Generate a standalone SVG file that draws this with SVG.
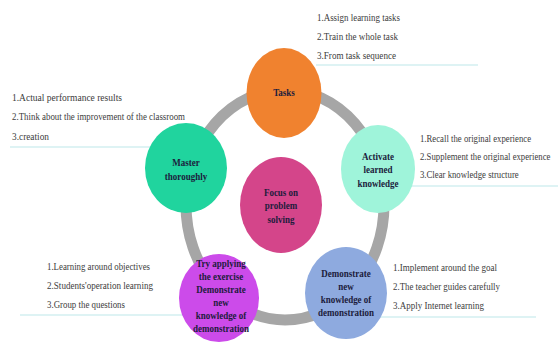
<svg xmlns="http://www.w3.org/2000/svg" width="558" height="342" viewBox="0 0 558 342">
  <style>
    .ring { fill: none; stroke: #a6a6a6; stroke-width: 11; }
    .rule { stroke: #d3eff0; stroke-width: 1.6; }
    .item { font-family: "Liberation Serif", "Times New Roman", serif; font-size: 10px; fill: #3c3c3c; }
    .lbl { font-family: "Liberation Serif", "Times New Roman", serif; font-size: 10px; font-weight: bold; fill: #1c1c3c; text-anchor: middle; }
  </style>

  <rect width="558" height="342" fill="#ffffff"/>

  <!-- side lists with their underlines -->
  <g id="list-tasks">
    <line class="rule" x1="316" y1="65" x2="478" y2="65"/>
    <text class="item" x="317" y="21" textLength="83" lengthAdjust="spacingAndGlyphs">1.Assign learning tasks</text>
    <text class="item" x="317" y="40" textLength="81" lengthAdjust="spacingAndGlyphs">2.Train the whole task</text>
    <text class="item" x="317" y="59" textLength="79" lengthAdjust="spacingAndGlyphs">3.From task sequence</text>
  </g>
  <g id="list-master">
    <line class="rule" x1="10" y1="147" x2="160" y2="147"/>
    <text class="item" x="12" y="101" textLength="110" lengthAdjust="spacingAndGlyphs">1.Actual performance results</text>
    <text class="item" x="12" y="120" textLength="173" lengthAdjust="spacingAndGlyphs">2.Think about the improvement of the classroom</text>
    <text class="item" x="12" y="140" textLength="37" lengthAdjust="spacingAndGlyphs">3.creation</text>
  </g>
  <g id="list-activate">
    <line class="rule" x1="410" y1="186" x2="558" y2="186"/>
    <g transform="translate(420 0) scale(0.875 1)">
      <text class="item" x="0" y="142">1.Recall the original experience</text>
      <text class="item" x="0" y="160">2.Supplement the original experience</text>
      <text class="item" x="0" y="178">3.Clear knowledge structure</text>
    </g>
  </g>
  <g id="list-try">
    <line class="rule" x1="20" y1="315" x2="190" y2="315"/>
    <text class="item" x="47" y="270" textLength="103" lengthAdjust="spacingAndGlyphs">1.Learning around objectives</text>
    <text class="item" x="47" y="289" textLength="106" lengthAdjust="spacingAndGlyphs">2.Students'operation learning</text>
    <text class="item" x="47" y="308" textLength="78" lengthAdjust="spacingAndGlyphs">3.Group the questions</text>
  </g>
  <g id="list-demonstrate">
    <line class="rule" x1="380" y1="317" x2="536" y2="317"/>
    <text class="item" x="393" y="271" textLength="104" lengthAdjust="spacingAndGlyphs">1.Implement around the goal</text>
    <text class="item" x="393" y="290" textLength="107" lengthAdjust="spacingAndGlyphs">2.The teacher guides carefully</text>
    <text class="item" x="393" y="309" textLength="91" lengthAdjust="spacingAndGlyphs">3.Apply Internet learning</text>
  </g>

  <!-- cycle ring joining the outer nodes -->
  <g id="connectors">
    <ellipse class="ring" cx="285" cy="205" rx="99" ry="115"/>
  </g>

  <g id="node-tasks">
    <ellipse cx="284" cy="93" rx="37.5" ry="45" fill="#f0822f"/>
    <g transform="translate(284 0) scale(0.9 1)">
      <text class="lbl" x="0" y="96.5">Tasks</text>
    </g>
  </g>

  <g id="node-master">
    <ellipse cx="186" cy="168" rx="41" ry="45" fill="#20d49e"/>
    <g transform="translate(186 0) scale(0.9 1)">
      <text class="lbl" x="0" y="166.5">Master</text>
      <text class="lbl" x="0" y="180">thoroughly</text>
    </g>
  </g>

  <g id="node-activate">
    <ellipse cx="378" cy="169" rx="37" ry="44" fill="#9ff4da"/>
    <g transform="translate(378 0) scale(0.9 1)">
      <text class="lbl" x="0" y="160">Activate</text>
      <text class="lbl" x="0" y="173.5">learned</text>
      <text class="lbl" x="0" y="187">knowledge</text>
    </g>
  </g>

  <g id="node-focus">
    <ellipse cx="281" cy="205" rx="41" ry="48" fill="#d4458a"/>
    <g transform="translate(281 0) scale(0.9 1)">
      <text class="lbl" x="0" y="196">Focus on</text>
      <text class="lbl" x="0" y="209.5">problem</text>
      <text class="lbl" x="0" y="223">solving</text>
    </g>
  </g>

  <g id="node-try">
    <ellipse cx="219" cy="298" rx="40" ry="44" fill="#cc4bea"/>
    <g transform="translate(221 0) scale(0.9 1)">
      <text class="lbl" x="0" y="267">Try applying</text>
      <text class="lbl" x="0" y="280">the exercise</text>
      <text class="lbl" x="0" y="293">Demonstrate</text>
      <text class="lbl" x="0" y="306">new</text>
      <text class="lbl" x="0" y="319">knowledge of</text>
      <text class="lbl" x="0" y="332">demonstration</text>
    </g>
  </g>

  <g id="node-demonstrate">
    <ellipse cx="346" cy="293" rx="41" ry="46" fill="#8eaadf"/>
    <g transform="translate(346 0) scale(0.9 1)">
      <text class="lbl" x="0" y="277">Demonstrate</text>
      <text class="lbl" x="0" y="290">new</text>
      <text class="lbl" x="0" y="303">knowledge of</text>
      <text class="lbl" x="0" y="316">demonstration</text>
    </g>
  </g>
</svg>
